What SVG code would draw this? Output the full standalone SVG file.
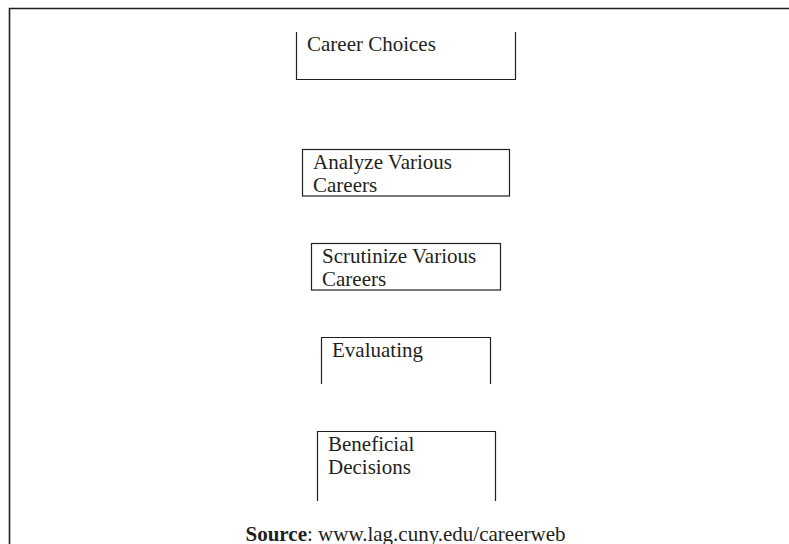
<svg xmlns="http://www.w3.org/2000/svg" width="789" height="544" viewBox="0 0 789 544">
<style>
.ln{fill:none;stroke:#231f20;stroke-width:1.2}
.fr{fill:none;stroke:#231f20;stroke-width:1.6}
.t{font-family:"Liberation Serif","Times New Roman",serif;font-size:21px;fill:#231f20}
</style>
<rect width="789" height="544" fill="#fff"/>
<path class="fr" d="M9.5 544 V8.5 H789"/>
<g id="n1">
<path class="ln" d="M296.5 32 V79.5 H515.5 V32"/>
<text class="t" x="307" y="51">Career Choices</text>
</g>
<g id="n2">
<rect class="ln" x="302.5" y="149.5" width="207" height="46.5"/>
<text class="t" x="313" y="169">Analyze Various</text>
<text class="t" x="313" y="192">Careers</text>
</g>
<g id="n3">
<rect class="ln" x="311.5" y="243.5" width="189" height="46.5"/>
<text class="t" x="322" y="263">Scrutinize Various</text>
<text class="t" x="322" y="286">Careers</text>
</g>
<g id="n4">
<path class="ln" d="M321.5 384 V337.5 H490.5 V384"/>
<text class="t" x="332" y="357">Evaluating</text>
</g>
<g id="n5">
<path class="ln" d="M317.5 501 V431.5 H495.5 V501"/>
<text class="t" x="328" y="451">Beneficial</text>
<text class="t" x="328" y="474">Decisions</text>
</g>
<g id="connectors"></g>
<text class="t" x="405.5" y="541" text-anchor="middle"><tspan font-weight="bold">Source</tspan>: www.lag.cuny.edu/careerweb</text>
</svg>
